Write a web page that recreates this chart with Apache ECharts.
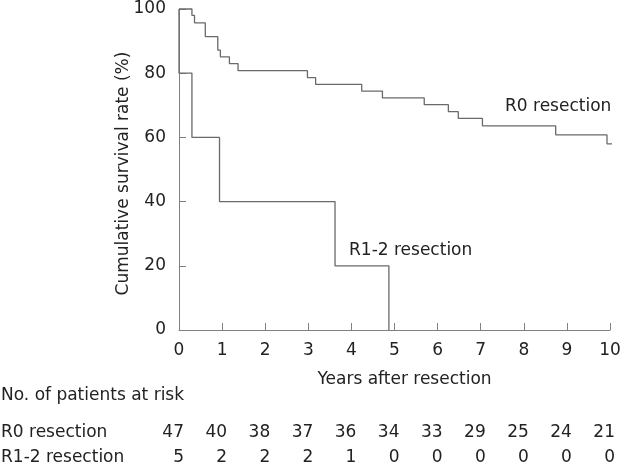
<!DOCTYPE html>
<html><head><meta charset="utf-8">
<script src="https://cdn.jsdelivr.net/npm/echarts@6/dist/echarts.min.js"></script>
<style>html,body{margin:0;padding:0;background:#fff}#c{width:630px;height:472px}</style>
</head><body><div id="c"></div>
<script>
// Kaplan-Meier step points [years, survival %]
const r0Curve = [[0,100],[0.30,98],[0.36,95.7],[0.61,91.4],[0.90,87.2],[0.96,85.1],[1.17,83],[1.37,80.8],[2.98,78.6],[3.17,76.5],[4.24,74.4],[4.72,72.3],[5.69,70.2],[6.25,68],[6.48,65.9],[7.04,63.6],[8.74,60.8],[9.93,58],[10.2,58]];
const r12Curve = [[0,100],[0,80],[0.30,60],[0.94,40],[3.62,20],[4.87,0]];
const years = [0,1,2,3,4,5,6,7,8,9,10];
const r0Risk = [47,40,38,37,36,34,33,29,25,24,21];
const r12Risk = [5,2,2,2,1,0,0,0,0,0,0];
const riskRows = ['R0 resection','R1-2 resection'];

const FONT = 'DejaVu Sans';
const FS = 17;
const TXT = '#222';
const chart = echarts.init(document.getElementById('c'));
const baseGraphic = [
  {type:'text', left:505, top:98, style:{text:'R0 resection', font:FS+'px "DejaVu Sans"', fill:TXT}},
  {type:'text', left:349, top:242, style:{text:'R1-2 resection', font:FS+'px "DejaVu Sans"', fill:TXT}},
  {type:'text', x:1, y:396, style:{text:'No. of patients at risk', font:FS+'px "DejaVu Sans"', fill:TXT, textVerticalAlign:'middle'}},
  {type:'text', x:1, y:432.5, style:{text:riskRows[0], font:FS+'px "DejaVu Sans"', fill:TXT, textVerticalAlign:'middle'}},
  {type:'text', x:1, y:458, style:{text:riskRows[1], font:FS+'px "DejaVu Sans"', fill:TXT, textVerticalAlign:'middle'}}
];
chart.setOption({
  animation:false,
  grid:{left:179, right:20, top:9, bottom:142},
  xAxis:{type:'value', min:0, max:10, interval:1,
    axisLine:{lineStyle:{color:'#808080', width:1}},
    axisTick:{inside:true, length:7, lineStyle:{color:'#808080'}},
    splitLine:{show:false},
    axisLabel:{fontFamily:FONT, fontSize:FS, color:TXT, margin:12, showMinLabel:true, showMaxLabel:true},
    name:'Years after resection', nameLocation:'middle', nameGap:41,
    nameTextStyle:{fontFamily:FONT, fontSize:FS, color:TXT, padding:[0,0,0,20]}},
  yAxis:{type:'value', min:0, max:100, interval:20,
    axisLine:{show:true, lineStyle:{color:'#808080', width:1}},
    axisTick:{show:true, inside:true, length:7, lineStyle:{color:'#808080'}},
    splitLine:{show:false},
    axisLabel:{fontFamily:FONT, fontSize:FS, color:TXT, margin:13, padding:[3,0,0,0]},
    name:'Cumulative survival rate (%)', nameLocation:'middle', nameGap:47, nameMoveOverlap:false,
    nameTextStyle:{fontFamily:FONT, fontSize:FS, color:TXT, padding:[0,8,0,0]}},
  series:[
    {type:'line', step:'end', data:r0Curve, symbol:'none', clip:false,
      lineStyle:{color:'#6a6a6a', width:1.3}},
    {type:'line', step:'end', data:r12Curve, symbol:'none', clip:false,
      lineStyle:{color:'#6a6a6a', width:1.3}}
  ],
  graphic:baseGraphic
});
// risk table numbers positioned through the x axis scale
const riskTexts = [];
[[r0Risk,432.5],[r12Risk,458]].forEach(([vals,y])=>{
  years.forEach((yr,i)=>{
    const px = chart.convertToPixel({xAxisIndex:0}, yr);
    riskTexts.push({type:'text', x:px+5, y:y,
      style:{text:String(vals[i]), font:FS+'px "DejaVu Sans"', fill:TXT, textAlign:'right', textVerticalAlign:'middle'}});
  });
});
chart.setOption({graphic:baseGraphic.concat(riskTexts)});
</script></body></html>
